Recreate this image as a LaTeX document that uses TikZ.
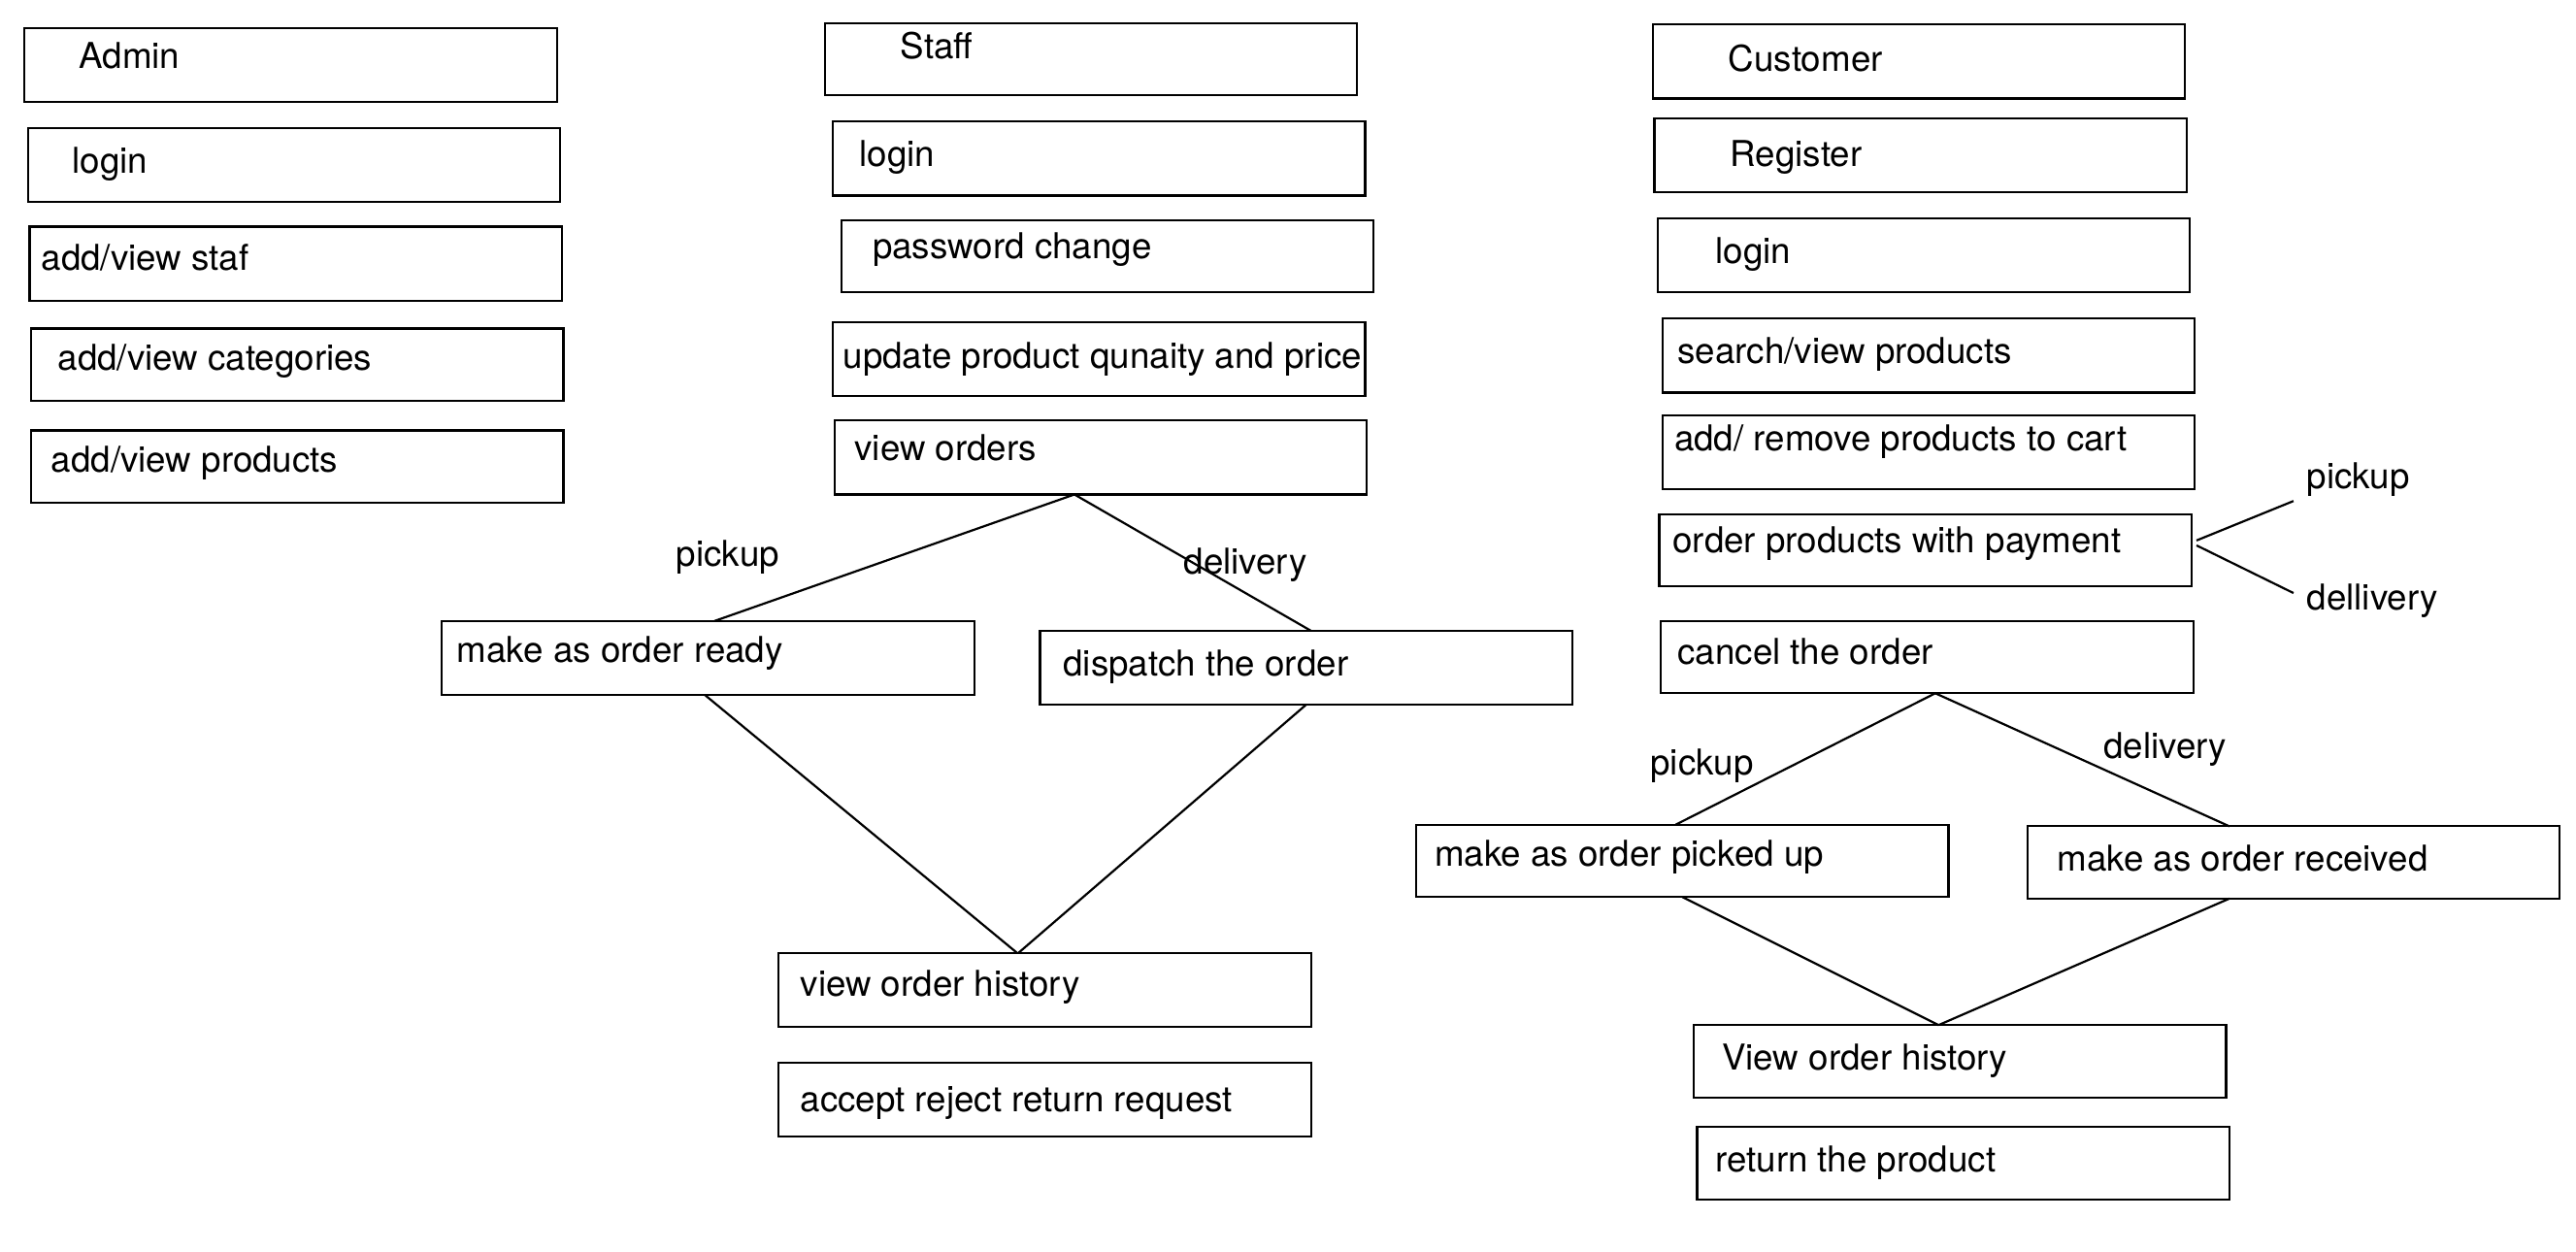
\documentclass[tikz,border=0pt]{standalone}
\usepackage{fontspec}
\setmainfont{TeX Gyre Heros}
\begin{document}
\begin{tikzpicture}[x=1pt,y=-1pt,
  boxst/.style={draw=black,line width=1.3pt,rectangle,inner sep=0pt,outer sep=0pt},
  txtst/.style={anchor=base west,inner sep=0pt,font=\fontsize{21.7}{24}\selectfont},
  lblst/.style={inner sep=0pt,font=\fontsize{21.7}{24}\selectfont},
  conn/.style={draw=black,line width=1.3pt}]
\useasboundingbox (0,0) rectangle (1568,762);
\newcommand{\bx}[8]{%
  \node[boxst,minimum width={#4-#2},minimum height={#5-#3}] (#1) at ({(#2+#4)/2},{(#3+#5)/2}) {};
  \node[txtst] (#1t) at (#6,{#7+7.5}) {#8};}
% Admin column
\bx{adm}{15}{17}{339}{62}{48}{34}{Admin}
\bx{alog}{17}{78}{341}{123}{44}{98}{login}
\bx{astf}{18}{138}{342}{183}{25}{157}{add/view staf}
\bx{acat}{19}{200}{343}{244}{35}{218}{add/view categories}
\bx{aprd}{19}{262}{343}{306}{31}{280}{add/view products}
% Staff column
\bx{stf}{502}{14}{826}{58}{548}{28}{Staff}
\bx{slog}{507}{74}{831}{119}{523}{94}{login}
\bx{spw}{512}{134}{836}{178}{531}{150}{password change}
\bx{supd}{507}{196}{831}{241}{513}{217}{update product qunaity and price}
\bx{svo}{508}{256}{832}{301}{520}{273}{view orders}
\bx{smor}{269}{378}{593}{423}{278}{396}{make as order ready}
\bx{sdis}{633}{384}{957}{429}{647}{404}{dispatch the order}
\bx{svoh}{474}{580}{798}{625}{487}{599}{view order history}
\bx{sacc}{474}{647}{798}{692}{487}{669}{accept reject return request}
\node[lblst,anchor=base] (spick) at (443,344.5) {pickup};
\node[lblst,anchor=base] (sdel) at (758,349.5) {delivery};
\draw[conn] ([xshift=-16]svo.south) -- ([xshift=4]smor.north);
\draw[conn] ([xshift=-16]svo.south) -- ([xshift=3]sdis.north);
\draw[conn] ([xshift=-2]smor.south) -- ([xshift=-17]svoh.north);
\draw[conn] (sdis.south) -- ([xshift=-16]svoh.north);
% Customer column
\bx{cus}{1006}{15}{1330}{60}{1052}{36}{Customer}
\bx{creg}{1007}{72}{1331}{117}{1053}{94}{Register}
\bx{clog}{1009}{133}{1333}{178}{1044}{153}{login}
\bx{csrch}{1012}{194}{1336}{239}{1021}{214}{search/view products}
\bx{ccart}{1012}{253}{1336}{298}{1019}{267}{add/ remove products to cart}
\bx{cord}{1010}{313}{1334}{357}{1018}{329}{order products with payment}
\bx{ccan}{1011}{378}{1335}{422}{1021}{397}{cancel the order}
\bx{cpick}{862}{502}{1186}{546}{873}{520}{make as order picked up}
\bx{crec}{1234}{503}{1558}{547}{1252}{523}{make as order received}
\bx{cvoh}{1031}{624}{1355}{668}{1048}{644}{View order history}
\bx{cret}{1033}{686}{1357}{730}{1044}{706}{return the product}
\coordinate (cpe) at (1396,305);
\coordinate (cde) at (1396,361);
\node[lblst,anchor=base west] (cpl) at (1404,297.5) {pickup};
\node[lblst,anchor=base west] (cdl) at (1404,371.5) {dellivery};
\draw[conn] ([xshift=3pt,yshift=6pt]cord.east) -- (cpe);
\draw[conn] ([xshift=3pt,yshift=3pt]cord.east) -- (cde);
\node[lblst,anchor=base] (cpk) at (1036,471.5) {pickup};
\node[lblst,anchor=base] (cdv) at (1318,461.5) {delivery};
\draw[conn] ([xshift=5]ccan.south) -- ([xshift=-4]cpick.north);
\draw[conn] ([xshift=5]ccan.south) -- ([xshift=-39]crec.north);
\draw[conn] (cpick.south) -- ([xshift=-13]cvoh.north);
\draw[conn] ([xshift=-39]crec.south) -- ([xshift=-13]cvoh.north);
\end{tikzpicture}
\end{document}
